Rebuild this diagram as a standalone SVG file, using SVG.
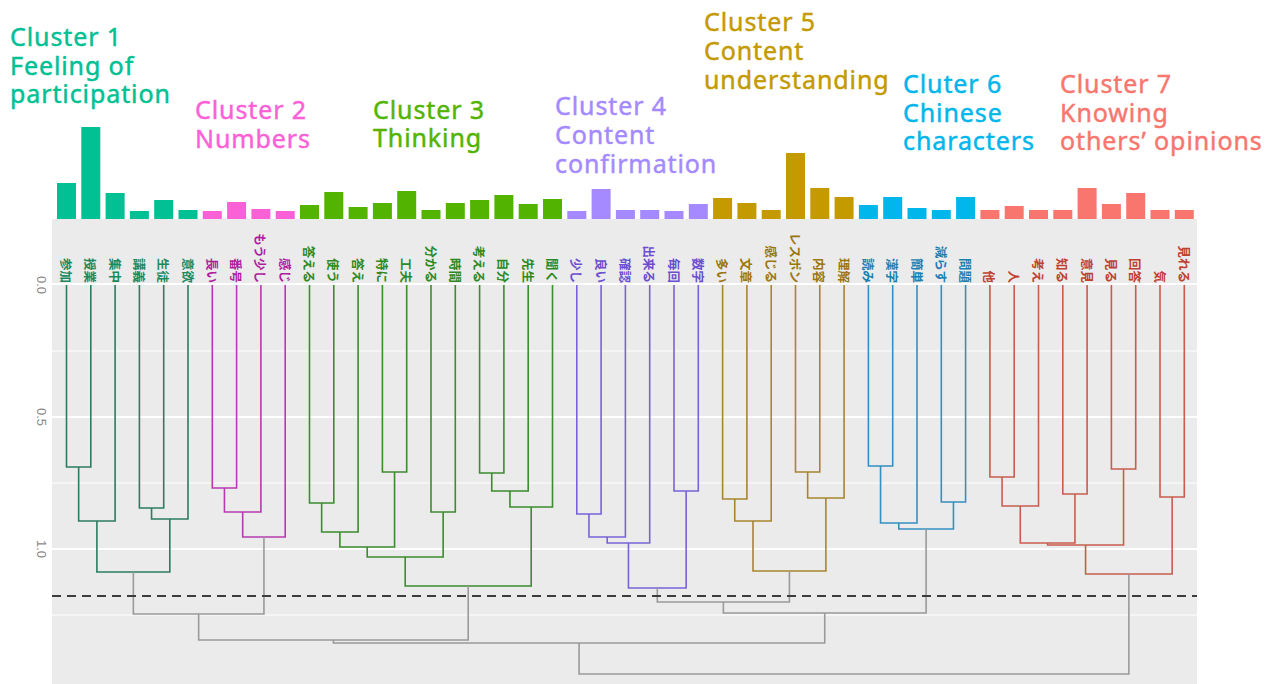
<svg xmlns="http://www.w3.org/2000/svg" width="1273" height="684" viewBox="0 0 1273 684">
<style>
.t{font-family:"Noto Sans","Open Sans",sans-serif;font-size:25px;letter-spacing:0.9px;stroke-width:0.45px}
.lb{font-family:"Noto Sans CJK JP",sans-serif;font-size:12.5px;font-weight:700;text-anchor:end;dominant-baseline:central}
.ax{font-family:"Liberation Sans",sans-serif;font-size:13px;fill:#8a8a8a;text-anchor:middle;dominant-baseline:central}
.gmaj{stroke:#fff;stroke-width:2}
.gmin{stroke:#fff;stroke-width:1.2}
.e{fill:none;stroke-width:1.6}
.c1{fill:#00C094}.c2{fill:#FB61D7}.c3{fill:#53B400}.c4{fill:#A58AFF}.c5{fill:#C49A00}.c6{fill:#00B6EB}.c7{fill:#F8766D}
#title1{stroke:#00C094}#title2{stroke:#FB61D7}#title3{stroke:#53B400}#title4{stroke:#A58AFF}#title5{stroke:#C49A00}#title6{stroke:#00B6EB}#title7{stroke:#F8766D}
.l1{fill:#1b8a5e}.l2{fill:#b01ea0}.l3{fill:#2c8a1f}.l4{fill:#6b4fd0}.l5{fill:#9c7610}.l6{fill:#1d7fb0}.l7{fill:#c0412f}
.s1{stroke:#2b7d60}.s2{stroke:#b83ab0}.s3{stroke:#3d8c2f}.s4{stroke:#7a63d6}.s5{stroke:#a8862e}.s6{stroke:#3590c0}.s7{stroke:#c85d4e}.s0{stroke:#9a9a9a}
</style>
<rect width="1273" height="684" fill="#fff"/>
<g id="panel">
<rect x="52" y="219" width="1145" height="465" fill="#ebebeb"/>
<line class="gmaj" x1="52" y1="284" x2="1197" y2="284"/>
<line class="gmin" x1="52" y1="351" x2="1197" y2="351"/>
<line class="gmaj" x1="52" y1="417" x2="1197" y2="417"/>
<line class="gmin" x1="52" y1="483" x2="1197" y2="483"/>
<line class="gmaj" x1="52" y1="549" x2="1197" y2="549"/>
<line class="gmin" x1="52" y1="615" x2="1197" y2="615"/>
</g>
<g id="axis">
<text class="ax" transform="translate(41,285) rotate(90)">0.0</text>
<text class="ax" transform="translate(41,417) rotate(90)">0.5</text>
<text class="ax" transform="translate(41,549) rotate(90)">1.0</text>
</g>
<g id="titles">
<g id="title1" class="c1"><text class="t" x="10" y="46">Cluster 1</text><text class="t" x="10" y="75">Feeling of</text><text class="t" x="10" y="103">participation</text></g>
<g id="title2" class="c2"><text class="t" x="195" y="119">Cluster 2</text><text class="t" x="195" y="148">Numbers</text></g>
<g id="title3" class="c3"><text class="t" x="373" y="119">Cluster 3</text><text class="t" x="373" y="147">Thinking</text></g>
<g id="title4" class="c4"><text class="t" x="555" y="115">Cluster 4</text><text class="t" x="555" y="144">Content</text><text class="t" x="555" y="173">confirmation</text></g>
<g id="title5" class="c5"><text class="t" x="704" y="31">Cluster 5</text><text class="t" x="704" y="60">Content</text><text class="t" x="704" y="89">understanding</text></g>
<g id="title6" class="c6"><text class="t" x="903" y="93">Cluter 6</text><text class="t" x="903" y="122">Chinese</text><text class="t" x="903" y="150">characters</text></g>
<g id="title7" class="c7"><text class="t" x="1060" y="93">Cluster 7</text><text class="t" x="1060" y="122">Knowing</text><text class="t" x="1060" y="150">others’ opinions</text></g>
</g>
<g id="leaves">
<g id="n0"><rect class="c1" x="57" y="183" width="19" height="36"/><text class="lb l1" transform="translate(66.5,283) rotate(90)">参加</text></g>
<g id="n1"><rect class="c1" x="81.3" y="127" width="19" height="92"/><text class="lb l1" transform="translate(90.8,283) rotate(90)">授業</text></g>
<g id="n2"><rect class="c1" x="105.6" y="193" width="19" height="26"/><text class="lb l1" transform="translate(115.1,283) rotate(90)">集中</text></g>
<g id="n3"><rect class="c1" x="129.9" y="211" width="19" height="8"/><text class="lb l1" transform="translate(139.4,283) rotate(90)">講義</text></g>
<g id="n4"><rect class="c1" x="154.2" y="200" width="19" height="19"/><text class="lb l1" transform="translate(163.7,283) rotate(90)">生徒</text></g>
<g id="n5"><rect class="c1" x="178.5" y="210" width="19" height="9"/><text class="lb l1" transform="translate(188,283) rotate(90)">意欲</text></g>
<g id="n6"><rect class="c2" x="202.8" y="211" width="19" height="8"/><text class="lb l2" transform="translate(212.3,283) rotate(90)">長い</text></g>
<g id="n7"><rect class="c2" x="227.1" y="202" width="19" height="17"/><text class="lb l2" transform="translate(236.6,283) rotate(90)">番号</text></g>
<g id="n8"><rect class="c2" x="251.4" y="209" width="19" height="10"/><text class="lb l2" transform="translate(260.9,283) rotate(90)">もう少し</text></g>
<g id="n9"><rect class="c2" x="275.7" y="211" width="19" height="8"/><text class="lb l2" transform="translate(285.2,283) rotate(90)">感じ</text></g>
<g id="n10"><rect class="c3" x="300" y="205" width="19" height="14"/><text class="lb l3" transform="translate(309.5,283) rotate(90)">答える</text></g>
<g id="n11"><rect class="c3" x="324.3" y="192" width="19" height="27"/><text class="lb l3" transform="translate(333.8,283) rotate(90)">使う</text></g>
<g id="n12"><rect class="c3" x="348.6" y="207" width="19" height="12"/><text class="lb l3" transform="translate(358.1,283) rotate(90)">答え</text></g>
<g id="n13"><rect class="c3" x="372.9" y="203" width="19" height="16"/><text class="lb l3" transform="translate(382.4,283) rotate(90)">特に</text></g>
<g id="n14"><rect class="c3" x="397.2" y="191" width="19" height="28"/><text class="lb l3" transform="translate(406.7,283) rotate(90)">工夫</text></g>
<g id="n15"><rect class="c3" x="421.5" y="210" width="19" height="9"/><text class="lb l3" transform="translate(431,283) rotate(90)">分かる</text></g>
<g id="n16"><rect class="c3" x="445.8" y="203" width="19" height="16"/><text class="lb l3" transform="translate(455.3,283) rotate(90)">時間</text></g>
<g id="n17"><rect class="c3" x="470.1" y="200" width="19" height="19"/><text class="lb l3" transform="translate(479.6,283) rotate(90)">考える</text></g>
<g id="n18"><rect class="c3" x="494.4" y="195" width="19" height="24"/><text class="lb l3" transform="translate(503.9,283) rotate(90)">自分</text></g>
<g id="n19"><rect class="c3" x="518.7" y="204" width="19" height="15"/><text class="lb l3" transform="translate(528.2,283) rotate(90)">先生</text></g>
<g id="n20"><rect class="c3" x="543" y="199" width="19" height="20"/><text class="lb l3" transform="translate(552.5,283) rotate(90)">聞く</text></g>
<g id="n21"><rect class="c4" x="567.3" y="211" width="19" height="8"/><text class="lb l4" transform="translate(576.8,283) rotate(90)">少し</text></g>
<g id="n22"><rect class="c4" x="591.6" y="189" width="19" height="30"/><text class="lb l4" transform="translate(601.1,283) rotate(90)">良い</text></g>
<g id="n23"><rect class="c4" x="615.9" y="210" width="19" height="9"/><text class="lb l4" transform="translate(625.4,283) rotate(90)">確認</text></g>
<g id="n24"><rect class="c4" x="640.2" y="210" width="19" height="9"/><text class="lb l4" transform="translate(649.7,283) rotate(90)">出来る</text></g>
<g id="n25"><rect class="c4" x="664.5" y="211" width="19" height="8"/><text class="lb l4" transform="translate(674,283) rotate(90)">毎回</text></g>
<g id="n26"><rect class="c4" x="688.8" y="204" width="19" height="15"/><text class="lb l4" transform="translate(698.3,283) rotate(90)">数字</text></g>
<g id="n27"><rect class="c5" x="713.1" y="198" width="19" height="21"/><text class="lb l5" transform="translate(722.6,283) rotate(90)">多い</text></g>
<g id="n28"><rect class="c5" x="737.4" y="203" width="19" height="16"/><text class="lb l5" transform="translate(746.9,283) rotate(90)">文章</text></g>
<g id="n29"><rect class="c5" x="761.7" y="210" width="19" height="9"/><text class="lb l5" transform="translate(771.2,283) rotate(90)">感じる</text></g>
<g id="n30"><rect class="c5" x="786" y="153" width="19" height="66"/><text class="lb l5" transform="translate(795.5,283) rotate(90)">レスポン</text></g>
<g id="n31"><rect class="c5" x="810.3" y="188" width="19" height="31"/><text class="lb l5" transform="translate(819.8,283) rotate(90)">内容</text></g>
<g id="n32"><rect class="c5" x="834.6" y="197" width="19" height="22"/><text class="lb l5" transform="translate(844.1,283) rotate(90)">理解</text></g>
<g id="n33"><rect class="c6" x="858.9" y="205" width="19" height="14"/><text class="lb l6" transform="translate(868.4,283) rotate(90)">読み</text></g>
<g id="n34"><rect class="c6" x="883.2" y="197" width="19" height="22"/><text class="lb l6" transform="translate(892.7,283) rotate(90)">漢字</text></g>
<g id="n35"><rect class="c6" x="907.5" y="208" width="19" height="11"/><text class="lb l6" transform="translate(917,283) rotate(90)">簡単</text></g>
<g id="n36"><rect class="c6" x="931.8" y="210" width="19" height="9"/><text class="lb l6" transform="translate(941.3,283) rotate(90)">減らす</text></g>
<g id="n37"><rect class="c6" x="956.1" y="197" width="19" height="22"/><text class="lb l6" transform="translate(965.6,283) rotate(90)">問題</text></g>
<g id="n38"><rect class="c7" x="980.4" y="210" width="19" height="9"/><text class="lb l7" transform="translate(989.9,283) rotate(90)">他</text></g>
<g id="n39"><rect class="c7" x="1004.7" y="206" width="19" height="13"/><text class="lb l7" transform="translate(1014.2,283) rotate(90)">人</text></g>
<g id="n40"><rect class="c7" x="1029" y="210" width="19" height="9"/><text class="lb l7" transform="translate(1038.5,283) rotate(90)">考え</text></g>
<g id="n41"><rect class="c7" x="1053.3" y="210" width="19" height="9"/><text class="lb l7" transform="translate(1062.8,283) rotate(90)">知る</text></g>
<g id="n42"><rect class="c7" x="1077.6" y="188" width="19" height="31"/><text class="lb l7" transform="translate(1087.1,283) rotate(90)">意見</text></g>
<g id="n43"><rect class="c7" x="1101.9" y="204" width="19" height="15"/><text class="lb l7" transform="translate(1111.4,283) rotate(90)">見る</text></g>
<g id="n44"><rect class="c7" x="1126.2" y="193" width="19" height="26"/><text class="lb l7" transform="translate(1135.7,283) rotate(90)">回答</text></g>
<g id="n45"><rect class="c7" x="1150.5" y="210" width="19" height="9"/><text class="lb l7" transform="translate(1160,283) rotate(90)">気</text></g>
<g id="n46"><rect class="c7" x="1174.8" y="210" width="19" height="9"/><text class="lb l7" transform="translate(1184.3,283) rotate(90)">見れる</text></g>
</g>
<g id="connectors">
<g class="e s1">
<path d="M66.5 285V467H90.8V285"/><path d="M78.65 467V521H115.1V285"/><path d="M139.4 285V508H163.7V285"/><path d="M151.55 508V519H188V285"/><path d="M96.9 521V572H169.8V519"/>
</g>
<g class="e s2">
<path d="M212.3 285V488H236.6V285"/><path d="M224.45 488V512H260.9V285"/><path d="M242.7 512V537H285.2V285"/>
</g>
<g class="e s3">
<path d="M309.5 285V503H333.8V285"/><path d="M321.65 503V532H358.1V285"/><path d="M382.4 285V472H406.7V285"/><path d="M339.9 532V547H394.55V472"/><path d="M431 285V512H455.3V285"/><path d="M367.2 547V557H443.15V512"/><path d="M479.6 285V473H503.9V285"/><path d="M491.75 473V491H528.2V285"/><path d="M509.95 491V507H552.5V285"/><path d="M405.2 557V586H531.2V507"/>
</g>
<g class="e s4">
<path d="M576.8 285V514H601.1V285"/><path d="M588.95 514V537H625.4V285"/><path d="M607.2 537V543H649.7V285"/><path d="M674 285V491H698.3V285"/><path d="M628.45 543V588H686.15V491"/>
</g>
<g class="e s5">
<path d="M722.6 285V499H746.9V285"/><path d="M734.75 499V521H771.2V285"/><path d="M795.5 285V472H819.8V285"/><path d="M807.65 472V498H844.1V285"/><path d="M752.98 521V571H825.88V498"/>
</g>
<g class="e s6">
<path d="M868.4 285V466H892.7V285"/><path d="M880.55 466V523H917V285"/><path d="M941.3 285V502H965.6V285"/><path d="M898.78 523V529H953.45V502"/>
</g>
<g class="e s7">
<path d="M989.9 285V477H1014.2V285"/><path d="M1002.05 477V506H1038.5V285"/><path d="M1062.8 285V494H1087.1V285"/><path d="M1020.28 506V543H1074.95V494"/><path d="M1111.4 285V469H1135.7V285"/><path d="M1047.6 543V545H1123.55V469"/><path d="M1160 285V497H1184.3V285"/><path d="M1085.58 545V574H1172.15V497"/>
</g>
<g class="e s0">
<path d="M133.35 572V614H263.95V537"/><path d="M198.65 614V640H468.2V586"/><path d="M657.3 588V602H789.43V571"/><path d="M723.37 602V613H926.1V529"/><path d="M333.43 640V643H824.74V613"/><path d="M579.09 643V674H1128.87V574"/>
</g>
<line x1="52" y1="596" x2="1197" y2="596" stroke="#3c3c3c" stroke-width="2" stroke-dasharray="9 6"/>
</g>
</svg>
